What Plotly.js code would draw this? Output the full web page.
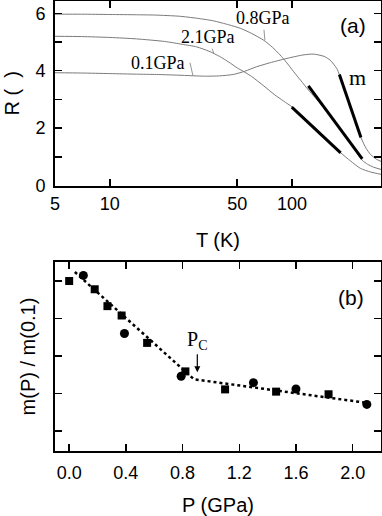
<!DOCTYPE html>
<html>
<head>
<meta charset="utf-8">
<script src="https://cdn.plot.ly/plotly-3.0.1.min.js"></script>
<style>
  body { margin: 0; background: #fff; }
  #plot { width: 382px; height: 516px; }
</style>
</head>
<body>
<div id="plot"></div>
<script>
// panel (a): R(T) at three pressures
var T08 = [5, 7, 10, 14, 17.7, 24, 30, 37, 45, 52, 60, 70, 78, 86, 93, 102, 112, 123, 150, 180, 210, 243, 260, 280, 308];
var R08 = [5.97, 5.97, 5.96, 5.95, 5.94, 5.90, 5.83, 5.74, 5.60, 5.48, 5.30, 5.06, 4.82, 4.55, 4.30, 3.97, 3.65, 3.33, 2.70, 2.05, 1.44, 0.88, 0.74, 0.64, 0.56];
var T21 = [5, 7, 10, 14, 20, 25, 30, 35, 40, 45, 50, 55, 60, 70, 80, 90, 100, 120, 140, 160, 185, 210, 237, 270, 308];
var R21 = [5.20, 5.19, 5.16, 5.11, 5.02, 4.92, 4.83, 4.68, 4.50, 4.30, 4.10, 3.95, 3.80, 3.47, 3.17, 2.94, 2.74, 2.30, 1.90, 1.52, 1.14, 0.85, 0.60, 0.47, 0.39];
var T01 = [5, 7, 10, 14, 18, 25, 33, 40, 47.6, 55, 64, 75, 86, 100, 115, 131, 150, 162, 176, 182, 200, 220, 239, 255, 270, 290, 308];
var R01 = [3.93, 3.92, 3.90, 3.88, 3.87, 3.84, 3.81, 3.82, 3.87, 3.98, 4.14, 4.27, 4.37, 4.47, 4.55, 4.58, 4.50, 4.37, 4.08, 3.87, 3.12, 2.35, 1.67, 1.30, 1.08, 0.92, 0.84];
// tangents (slope m)
var tanT = [[99.7, 185], [123, 243], [182, 239]];
var tanR = [[2.73, 1.14], [3.47, 0.93], [3.87, 1.67]];

// panel (b): m(P)/m(0.1)
var Psq = [0.0, 0.18, 0.27, 0.37, 0.55, 0.82, 1.10, 1.46, 1.83];
var msq = [1.0, 0.978, 0.933, 0.908, 0.835, 0.759, 0.711, 0.705, 0.698];
var Pci = [0.10, 0.39, 0.79, 1.30, 1.60, 2.10];
var mci = [1.015, 0.86, 0.746, 0.729, 0.712, 0.671];
var Pfit = [0.04, 0.88, 2.12];
var mfit = [1.024, 0.738, 0.674];

var sans = "Liberation Sans, Arial, sans-serif";
var serif = "Liberation Serif, Times New Roman, serif";
var gray = "#7a7a7a";

var traces = [];
[[T01, R01], [T08, R08], [T21, R21]].forEach(function (c) {
    traces.push({x: c[0], y: c[1], xaxis: "x", yaxis: "y", mode: "lines",
        line: {color: gray, width: 1, shape: "spline", smoothing: 0.6}, hoverinfo: "none"});
});
for (var i = 0; i < tanT.length; i++) {
    traces.push({x: tanT[i], y: tanR[i], xaxis: "x", yaxis: "y", mode: "lines",
        line: {color: "black", width: 3}});
}
traces.push({x: Pfit, y: mfit, xaxis: "x2", yaxis: "y2", mode: "lines",
    line: {color: "black", width: 2.5, dash: "dot"}});
traces.push({x: Psq, y: msq, xaxis: "x2", yaxis: "y2", mode: "markers",
    marker: {symbol: "square", size: 8, color: "black"}});
traces.push({x: Pci, y: mci, xaxis: "x2", yaxis: "y2", mode: "markers",
    marker: {symbol: "circle", size: 9, color: "black"}});

var axisBase = {
    showline: true, linecolor: "black", linewidth: 2, mirror: "allticks",
    ticks: "inside", ticklen: 7, tickwidth: 1.5, tickcolor: "black",
    showgrid: false, zeroline: false,
    tickfont: {family: sans, size: 18, color: "black"}
};
function ax(o) { return Object.assign({}, axisBase, o); }

var L = Math.log10;
var lbl = {family: serif, size: 18, color: "black"};
var layout = {
    width: 382, height: 516,
    margin: {l: 55, r: 1, t: 1, b: 65},
    showlegend: false,
    paper_bgcolor: "white", plot_bgcolor: "white",
    xaxis: ax({type: "log", range: [L(5), L(308)], domain: [0, 1], anchor: "y",
        tickvals: [5, 10, 50, 100], ticktext: ["5", "10", "50", "100"], ticklabelstandoff: 1,
        title: {text: "T (K)", font: {family: sans, size: 20, color: "black"}, standoff: 20}}),
    yaxis: ax({range: [0, 6.43], domain: [0.59, 1], anchor: "x",
        tick0: 0, dtick: 2, ticklabelstandoff: 4,
        minor: {tick0: 0, dtick: 1, ticks: "inside", ticklen: 7, tickwidth: 1.5, tickcolor: "black"},
        title: {text: "R (  )", font: {family: sans, size: 20, color: "black"}, standoff: 10}}),
    xaxis2: ax({range: [-0.1, 2.2], domain: [0, 1], anchor: "y2",
        tickvals: [0, 0.4, 0.8, 1.2, 1.6, 2.0], tickformat: ".1f", ticklabelstandoff: 4,
        title: {text: "P (GPa)", font: {family: sans, size: 20, color: "black"}, standoff: 21}}),
    yaxis2: ax({range: [0.5467, 1.0507], domain: [0, 0.42], anchor: "x2",
        tickvals: [0.6, 0.7, 0.8, 0.9, 1.0], showticklabels: false,
        title: {text: "m(P) / m(0.1)", font: {family: sans, size: 20, color: "black"}, standoff: 12}}),
    annotations: [
        {xref: "x", yref: "y", x: L(71), y: 5.06, text: "0.8GPa", font: lbl,
            showarrow: true, arrowhead: 0, arrowwidth: 0.8, arrowcolor: gray, ax: -2, ay: -22, standoff: 0},
        {xref: "x", yref: "y", x: L(37.2), y: 4.61, text: "2.1GPa", font: lbl,
            showarrow: true, arrowhead: 0, arrowwidth: 0.8, arrowcolor: gray, ax: -6, ay: -16, standoff: 0},
        {xref: "x", yref: "y", x: L(28.6), y: 3.825, text: "0.1GPa", font: lbl, xanchor: "right", borderpad: 4,
            showarrow: true, arrowhead: 0, arrowwidth: 0.8, arrowcolor: gray, ax: -3, ay: -13, standoff: 0},
        {xref: "x", yref: "y", x: L(230), y: 3.78, text: "m", showarrow: false, font: {family: serif, size: 22, color: "black"}},
        {xref: "x", yref: "y", x: L(216.7), y: 5.59, text: "(a)", showarrow: false, font: {family: sans, size: 21, color: "black"}},
        {xref: "x2", yref: "y2", x: 1.991, y: 0.955, text: "(b)", showarrow: false, font: {family: sans, size: 21, color: "black"}},
        {xref: "x2", yref: "y2", x: 0.904, y: 0.757, text: "P<sub>C</sub>", font: {family: serif, size: 20, color: "black"},
            showarrow: true, arrowhead: 2, arrowsize: 1, arrowwidth: 1.2, arrowcolor: "black", ax: 0, ay: -32, standoff: 0}
    ]
};

Plotly.newPlot("plot", traces, layout, {displayModeBar: false, staticPlot: true});
</script>
</body>
</html>
